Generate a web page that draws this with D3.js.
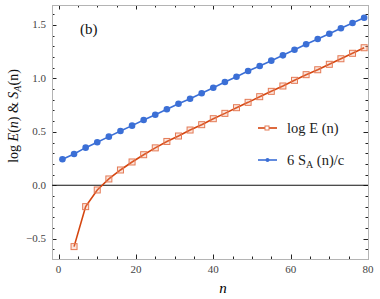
<!DOCTYPE html>
<html lang="en">
<head>
  <meta charset="utf-8">
  <title>log E(n) and S_A(n)</title>
  <script src="https://d3js.org/d3.v7.min.js"></script>
  <style>
    body { margin: 0; background: #ffffff; }
    svg { display: block; font-family: "Liberation Serif", "DejaVu Serif", serif; }
    .tick-label { font-size: 11px; fill: #444; }
    .frame { fill: none; stroke: #b4b4b4; stroke-width: 1; }
  </style>
</head>
<body>
<script>
// n values and series
var nSA = [1, 4, 7, 10, 13, 16, 19, 22, 25, 28, 31, 34, 37, 40, 43, 46, 49, 52, 55, 58, 61, 64, 67, 70, 73, 76, 79];
var sA = [0.243, 0.293, 0.352, 0.402, 0.455, 0.508, 0.558, 0.611, 0.660, 0.711, 0.763, 0.810, 0.861, 0.913,
          0.966, 1.016, 1.069, 1.116, 1.166, 1.216, 1.268, 1.319, 1.369, 1.418, 1.469, 1.518, 1.568];
var nE = [4, 7, 10, 13, 16, 19, 22, 25, 28, 31, 34, 37, 40, 43, 46, 49, 52, 55, 58, 61, 64, 67, 70, 73, 76, 79];
var logE = [-0.574, -0.200, -0.044, 0.059, 0.143, 0.218, 0.286, 0.350, 0.410, 0.461, 0.517, 0.567, 0.623,
            0.673, 0.726, 0.776, 0.829, 0.879, 0.929, 0.982, 1.035, 1.081, 1.132, 1.184, 1.235, 1.287];
var xTicks = [0, 20, 40, 60, 80];
var yTicks = [-0.5, 0.0, 0.5, 1.0, 1.5];

var width = 380, height = 299;
var pLeft = 52, pRight = 368, pTop = 5, pBottom = 259;

var blue = "#3b6fd6", orange = "#d5450f", orangeLight = "#e47a55";

var svg = d3.select("body").append("svg")
    .attr("width", width)
    .attr("height", height);

var x = d3.scaleLinear().domain([-1.7, 80]).range([pLeft, pRight]);
var y = d3.scaleLinear().domain([-0.69, 1.687]).range([pBottom, pTop]);

var fmt = function(d) { return d3.format(".1f")(d).replace("-", "\u2212"); };

// minor ticks every 5 on x, every 0.1 on y
var xMinor = d3.range(0, 81, 5);
var yMinor = d3.range(-6, 17).map(function(i) { return i / 10; });

var ticks = svg.append("g").attr("stroke", "#222").attr("stroke-width", 1);

xMinor.forEach(function(v) {
  var major = v % 20 === 0;
  var len = major ? 4.5 : 2.5;
  var px = Math.round(x(v)) + 0.5;
  ticks.append("line").attr("x1", px).attr("x2", px).attr("y1", pBottom).attr("y2", pBottom - len);
  ticks.append("line").attr("x1", px).attr("x2", px).attr("y1", pTop).attr("y2", pTop + len);
});

yMinor.forEach(function(v) {
  var major = Math.abs(v * 2 - Math.round(v * 2)) < 1e-6;
  var len = major ? 4.5 : 2.5;
  var py = Math.round(y(v)) + 0.5;
  ticks.append("line").attr("x1", pLeft).attr("x2", pLeft + len).attr("y1", py).attr("y2", py);
  ticks.append("line").attr("x1", pRight).attr("x2", pRight - len).attr("y1", py).attr("y2", py);
});

svg.append("rect").attr("class", "frame")
    .attr("x", pLeft + 0.5).attr("y", pTop + 0.5)
    .attr("width", pRight - pLeft).attr("height", pBottom - pTop);

// tick labels
svg.append("g").selectAll("text")
    .data(xTicks)
    .enter().append("text")
    .attr("class", "tick-label")
    .attr("x", d => x(d))
    .attr("y", 273)
    .attr("text-anchor", "middle")
    .text(d => d);

svg.append("g").selectAll("text")
    .data(yTicks)
    .enter().append("text")
    .attr("class", "tick-label")
    .attr("x", 46)
    .attr("y", d => y(d) + 3.5)
    .attr("text-anchor", "end")
    .text(fmt);

// zero line
svg.append("line")
    .attr("x1", pLeft).attr("x2", pRight)
    .attr("y1", y(0)).attr("y2", y(0))
    .attr("stroke", "#111").attr("stroke-width", 1.2);

var line = d3.line().x(d => x(d[0])).y(d => y(d[1]));

var sData = nSA.map((n, i) => [n, sA[i]]);
var eData = nE.map((n, i) => [n, logE[i]]);

svg.append("path").datum(sData)
    .attr("d", line).attr("fill", "none")
    .attr("stroke", blue).attr("stroke-width", 1.6);

svg.append("g").selectAll("circle")
    .data(sData)
    .enter().append("circle")
    .attr("cx", d => x(d[0])).attr("cy", d => y(d[1]))
    .attr("r", 3.3).attr("fill", blue);

svg.append("path").datum(eData)
    .attr("d", line).attr("fill", "none")
    .attr("stroke", orange).attr("stroke-width", 1.6);

svg.append("g").selectAll("rect")
    .data(eData)
    .enter().append("rect")
    .attr("x", d => x(d[0]) - 3).attr("y", d => y(d[1]) - 3)
    .attr("width", 6).attr("height", 6)
    .attr("fill", "rgba(240,150,120,0.25)")
    .attr("stroke", orangeLight).attr("stroke-width", 1);

// panel label
svg.append("text")
    .attr("x", 80).attr("y", 34)
    .attr("font-size", 15)
    .attr("fill", "#111")
    .text("(b)");

// legend
var lg = svg.append("g").attr("font-size", 14.5).attr("fill", "#222");
lg.append("line").attr("x1", 258).attr("x2", 277).attr("y1", 128).attr("y2", 128)
    .attr("stroke", orange).attr("stroke-width", 1.6);
lg.append("rect").attr("x", 265).attr("y", 126).attr("width", 4).attr("height", 4)
    .attr("fill", "#fff").attr("stroke", orangeLight).attr("stroke-width", 1);
lg.append("text").attr("x", 287).attr("y", 133).text("log E (n)");

lg.append("line").attr("x1", 258).attr("x2", 277).attr("y1", 160).attr("y2", 160)
    .attr("stroke", blue).attr("stroke-width", 1.6);
lg.append("circle").attr("cx", 267.5).attr("cy", 160).attr("r", 2).attr("fill", blue);
var t2 = lg.append("text").attr("x", 287).attr("y", 165);
t2.append("tspan").text("6 S");
t2.append("tspan").attr("font-size", 10).attr("dy", 3).text("A");
t2.append("tspan").attr("dy", -3).text(" (n)/c");

// axis titles
svg.append("text")
    .attr("x", 223).attr("y", 293)
    .attr("text-anchor", "middle")
    .attr("font-size", 15).attr("font-style", "italic")
    .text("n");

var yl = svg.append("text")
    .attr("transform", "translate(18,116) rotate(-90)")
    .attr("text-anchor", "middle")
    .attr("font-size", 14)
    .attr("fill", "#111");
yl.append("tspan").text("log ");
yl.append("tspan").attr("font-style", "italic").text("E");
yl.append("tspan").text("(");
yl.append("tspan").attr("font-style", "italic").text("n");
yl.append("tspan").text(") & ");
yl.append("tspan").attr("font-style", "italic").text("S");
yl.append("tspan").attr("font-style", "italic").attr("font-size", 10).attr("dy", 3).text("A");
yl.append("tspan").attr("dy", -3).text("(n)");
</script>
</body>
</html>
